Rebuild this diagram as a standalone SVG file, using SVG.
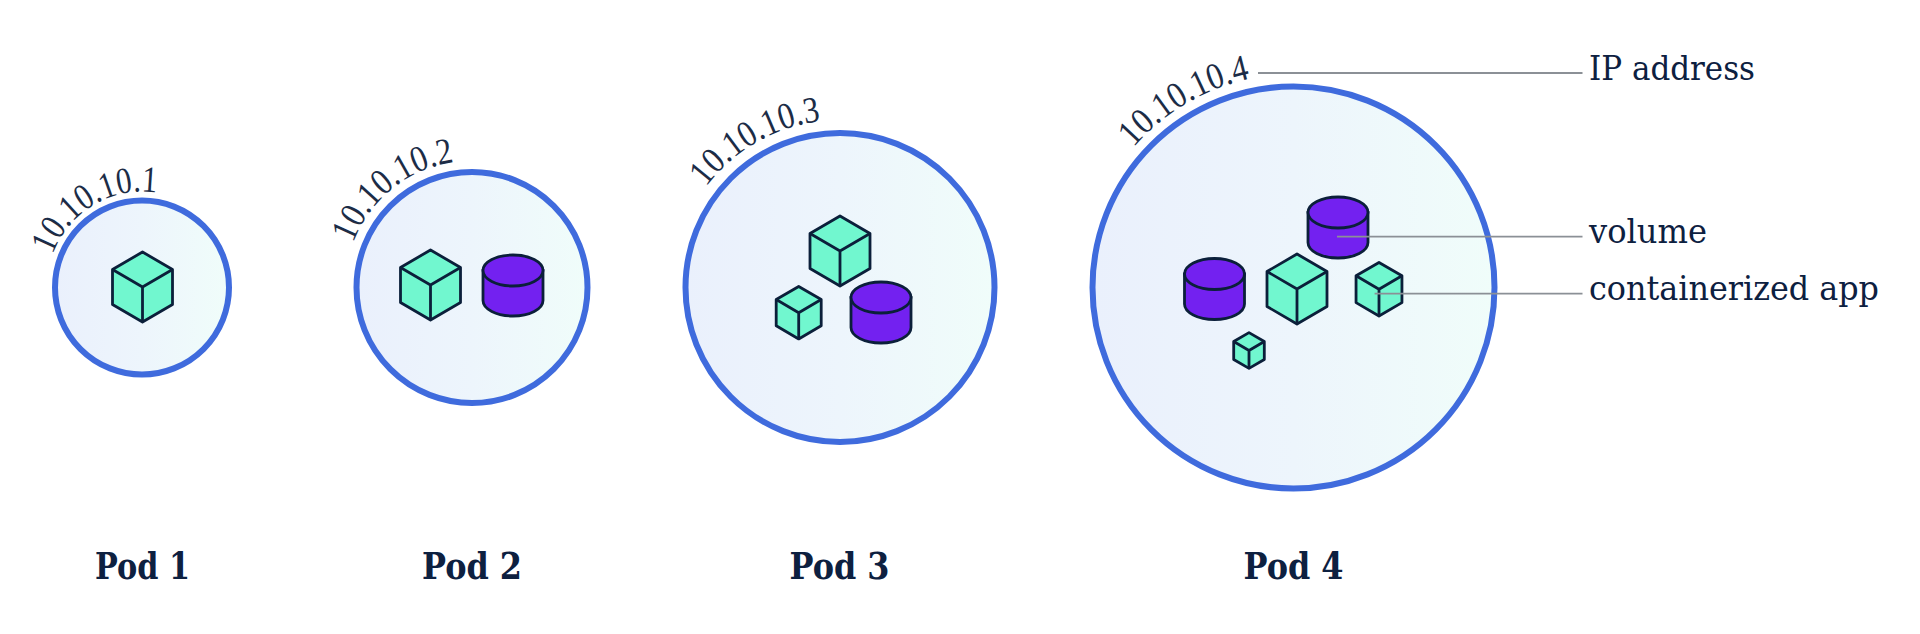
<svg xmlns="http://www.w3.org/2000/svg" xmlns:xlink="http://www.w3.org/1999/xlink" width="1920" height="634" viewBox="0 0 1920 634">
  <style>
    .pod { fill: url(#podFill); stroke: #3f6bdd; stroke-width: 6; }
    .cube { fill: #71f7cf; stroke: #0b1f3a; stroke-width: 2.8; stroke-linejoin: round; vector-effect: non-scaling-stroke; }
    .cyl { fill: #7321f0; stroke: #0b1f3a; stroke-width: 2.8; }
    .ip { font-family: "Liberation Serif", serif; font-size: 37px; fill: #1c2c46; }
    .note { font-family: "DejaVu Serif", serif; font-size: 34px; fill: #0d2040; }
    .title { font-family: "DejaVu Serif", serif; font-weight: 700; font-size: 37px; fill: #0d2040; }
    .lead { stroke: #8b9096; stroke-width: 1.8; fill: none; }
  </style>
  <defs>
    <linearGradient id="podFill" x1="0" y1="0" x2="1" y2="0">
      <stop offset="0" stop-color="#eaf0fc"/>
      <stop offset="0.5" stop-color="#edf5fc"/>
      <stop offset="1" stop-color="#f0fdfa"/>
    </linearGradient>
    <g id="cube">
      <path class="cube" d="M0 -35 L30 -17.5 V17.5 L0 35 L-30 17.5 V-17.5 Z"/>
      <path class="cube" style="fill:none" d="M-30 -17.5 L0 0 L30 -17.5 M0 0 V35"/>
    </g>
    <g id="cyl">
      <path class="cyl" d="M-30 -15 V15 A30 15.5 0 0 0 30 15 V-15 Z"/>
      <ellipse class="cyl" cx="0" cy="-15" rx="30" ry="15.5"/>
    </g>
    <path id="arc1" d="M52.5 254.5 A96 96 0 0 1 190 204"/>
    <path id="arc2" d="M353 243 A126 126 0 0 1 493.5 163"/>
    <path id="arc3" d="M706 187 A167 167 0 0 1 868.7 122.5"/>
    <path id="arc4" d="M1133.5 147.5 A213 213 0 0 1 1293.5 74"/>
  </defs>

  <g id="pod1">
    <circle class="pod" cx="142" cy="287.5" r="87"/>
    <use href="#cube" x="142.5" y="287"/>
    <text class="ip"><textPath href="#arc1" textLength="131" lengthAdjust="spacingAndGlyphs">10.10.10.1</textPath></text>
    <text class="title" x="95" y="579" textLength="95" lengthAdjust="spacingAndGlyphs">Pod 1</text>
  </g>
  <g id="pod2">
    <circle class="pod" cx="472" cy="287.5" r="115.5"/>
    <use href="#cube" x="430.5" y="285"/>
    <use href="#cyl" x="513" y="285.5"/>
    <text class="ip"><textPath href="#arc2" textLength="136" lengthAdjust="spacingAndGlyphs">10.10.10.2</textPath></text>
    <text class="title" x="422" y="579" textLength="100" lengthAdjust="spacingAndGlyphs">Pod 2</text>
  </g>
  <g id="pod3">
    <circle class="pod" cx="840" cy="287.5" r="154.5"/>
    <use href="#cube" x="840" y="251"/>
    <use href="#cube" transform="translate(798.7 312.7) scale(0.75)"/>
    <use href="#cyl" x="881" y="312.5"/>
    <text class="ip"><textPath href="#arc3" textLength="136" lengthAdjust="spacingAndGlyphs">10.10.10.3</textPath></text>
    <text class="title" x="789.5" y="579" textLength="100" lengthAdjust="spacingAndGlyphs">Pod 3</text>
  </g>
  <g id="pod4">
    <circle class="pod" cx="1293.5" cy="287.5" r="201"/>
    <use href="#cyl" x="1338" y="227.5"/>
    <use href="#cyl" x="1214.5" y="289"/>
    <use href="#cube" x="1297" y="289"/>
    <use href="#cube" transform="translate(1379 289.2) scale(0.765)"/>
    <use href="#cube" transform="translate(1249 350.5) scale(0.51)"/>
    <text class="ip"><textPath href="#arc4" textLength="138" lengthAdjust="spacingAndGlyphs">10.10.10.4</textPath></text>
    <text class="title" x="1243.5" y="579" textLength="100" lengthAdjust="spacingAndGlyphs">Pod 4</text>
  </g>

  <g id="connectors">
    <path class="lead" d="M1258 73 H1582.5"/>
    <path class="lead" d="M1337 236.7 H1582.5"/>
    <path class="lead" d="M1374.6 293.7 H1582.5"/>
  </g>

  <g id="legend">
    <text class="note" x="1589" y="80" textLength="166" lengthAdjust="spacingAndGlyphs">IP address</text>
    <text class="note" x="1589" y="243" textLength="118" lengthAdjust="spacingAndGlyphs">volume</text>
    <text class="note" x="1589" y="300" textLength="290" lengthAdjust="spacingAndGlyphs">containerized app</text>
  </g>
</svg>
